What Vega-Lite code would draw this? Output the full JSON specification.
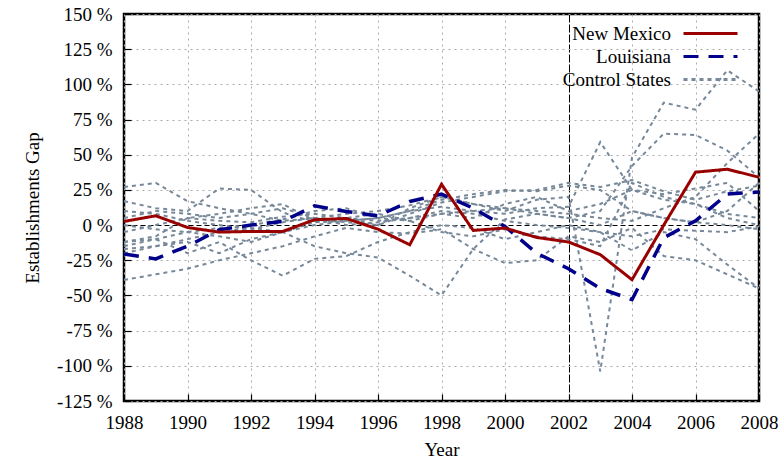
{
  "$schema": "https://vega.github.io/schema/vega-lite/v6.json",
  "width": 635,
  "height": 387,
  "autosize": {"type": "none"},
  "padding": {"left": 124, "top": 14, "right": 24, "bottom": 66},
  "background": "white",
  "config": {
    "font": "Liberation Serif",
    "view": {"stroke": "black", "strokeWidth": 2.5},
    "axis": {
      "labelFont": "Liberation Serif",
      "titleFont": "Liberation Serif",
      "labelFontSize": 19,
      "titleFontSize": 19,
      "titleFontWeight": "normal",
      "labelColor": "black",
      "titleColor": "black",
      "domain": false,
      "tickColor": "black",
      "tickWidth": 1.2,
      "gridWidth": 1
    },
    "legend": {
      "labelFont": "Liberation Serif",
      "labelFontSize": 19,
      "labelColor": "black"
    }
  },
  "data": {
    "values": [
      {"year": 1988, "New Mexico": 2.6, "Louisiana": -20.6, "C1": 27, "C2": 17, "C3": -12, "C4": -15, "C5": -5, "C6": 10, "C7": -17, "C8": -39, "C9": -12, "C10": 5, "C11": -20, "C12": 0},
      {"year": 1989, "New Mexico": 6.6, "Louisiana": -24, "C1": 30, "C2": 12, "C3": -8, "C4": -10, "C5": 0, "C6": 8, "C7": -15, "C8": -35, "C9": -10, "C10": 10, "C11": -15, "C12": -3},
      {"year": 1990, "New Mexico": -1.7, "Louisiana": -15, "C1": 17, "C2": 10, "C3": 5, "C4": -5, "C5": 5, "C6": 3, "C7": -10, "C8": -31, "C9": -20, "C10": 8, "C11": -12, "C12": -5},
      {"year": 1991, "New Mexico": -5, "Louisiana": -3.3, "C1": 12, "C2": 26, "C3": 8, "C4": -8, "C5": 3, "C6": 0, "C7": -5, "C8": -25, "C9": -12, "C10": 5, "C11": -20, "C12": -2},
      {"year": 1992, "New Mexico": -4.5, "Louisiana": 0, "C1": 8, "C2": 25, "C3": 12, "C4": -12, "C5": 2, "C6": -3, "C7": -2, "C8": -20, "C9": -25, "C10": 8, "C11": -10, "C12": 0},
      {"year": 1993, "New Mexico": -4.5, "Louisiana": 2.6, "C1": 3, "C2": 9, "C3": 15, "C4": -5, "C5": 6, "C6": 2, "C7": -5, "C8": -15, "C9": -36, "C10": 12, "C11": -5, "C12": 4},
      {"year": 1994, "New Mexico": 3.8, "Louisiana": 13.7, "C1": 5, "C2": 2, "C3": 3, "C4": 0, "C5": 8, "C6": 5, "C7": -15, "C8": -8, "C9": -24, "C10": 5, "C11": 2, "C12": 10},
      {"year": 1995, "New Mexico": 4.7, "Louisiana": 9.7, "C1": 2, "C2": 3, "C3": 5, "C4": 3, "C5": 5, "C6": 8, "C7": -20, "C8": -2, "C9": -22, "C10": 0, "C11": 5, "C12": 12},
      {"year": 1996, "New Mexico": -2.9, "Louisiana": 6.6, "C1": 0, "C2": 5, "C3": 0, "C4": 5, "C5": 3, "C6": 10, "C7": -23, "C8": -5, "C9": -12, "C10": 2, "C11": 8, "C12": 5},
      {"year": 1997, "New Mexico": -14, "Louisiana": 16.8, "C1": 8, "C2": 10, "C3": 12, "C4": 10, "C5": 5, "C6": 14, "C7": -36, "C8": -6, "C9": -5, "C10": 5, "C11": 3, "C12": 3},
      {"year": 1998, "New Mexico": 29, "Louisiana": 22, "C1": 16, "C2": 18, "C3": 20, "C4": 13, "C5": 8, "C6": 20, "C7": -50, "C8": -3, "C9": 0, "C10": 10, "C11": -5, "C12": 8},
      {"year": 1999, "New Mexico": -3.8, "Louisiana": 12, "C1": 20, "C2": 22, "C3": 15, "C4": 10, "C5": 10, "C6": 15, "C7": -17, "C8": -17, "C9": -2, "C10": 8, "C11": -8, "C12": 5},
      {"year": 2000, "New Mexico": -2.1, "Louisiana": -1, "C1": 24, "C2": 25, "C3": 10, "C4": 8, "C5": 12, "C6": 12, "C7": 4, "C8": -27, "C9": -10, "C10": 3, "C11": -3, "C12": 15},
      {"year": 2001, "New Mexico": -8.8, "Louisiana": -20, "C1": 25, "C2": 24, "C3": 18, "C4": 12, "C5": 8, "C6": 10, "C7": 8, "C8": -25, "C9": -5, "C10": 0, "C11": -8, "C12": 20},
      {"year": 2002, "New Mexico": -12, "Louisiana": -31, "C1": 30, "C2": 28, "C3": 20, "C4": 13, "C5": 5, "C6": 8, "C7": 5, "C8": -8, "C9": 0, "C10": -2, "C11": -10, "C12": 10},
      {"year": 2003, "New Mexico": -21, "Louisiana": -45, "C1": 27, "C2": 25, "C3": -104, "C4": 59, "C5": 10, "C6": 5, "C7": 0, "C8": -12, "C9": -5, "C10": -5, "C11": -15, "C12": 15},
      {"year": 2004, "New Mexico": -38.8, "Louisiana": -53, "C1": 32, "C2": 10, "C3": 48, "C4": 25, "C5": 42, "C6": 3, "C7": 10, "C8": -2, "C9": -18, "C10": -8, "C11": 30, "C12": 25},
      {"year": 2005, "New Mexico": 0, "Louisiana": -9, "C1": 24, "C2": 5, "C3": 87, "C4": 18, "C5": 65, "C6": 12, "C7": 5, "C8": -22, "C9": -5, "C10": -3, "C11": 20, "C12": 22},
      {"year": 2006, "New Mexico": 37.6, "Louisiana": 3, "C1": 18, "C2": 2, "C3": 82, "C4": 15, "C5": 64, "C6": 20, "C7": 2, "C8": -25, "C9": -10, "C10": -4, "C11": 15, "C12": 26},
      {"year": 2007, "New Mexico": 39.7, "Louisiana": 22, "C1": 24, "C2": 10, "C3": 110, "C4": 8, "C5": 53, "C6": 44, "C7": 0, "C8": -35, "C9": -28, "C10": -5, "C11": 5, "C12": 30},
      {"year": 2008, "New Mexico": 34, "Louisiana": 23.5, "C1": 28, "C2": 30, "C3": 95, "C4": 5, "C5": 34, "C6": 65, "C7": -3, "C8": -45, "C9": -45, "C10": -1, "C11": 0, "C12": 10}
    ]
  },
  "transform": [
    {"fold": ["C1", "C2", "C3", "C4", "C5", "C6", "C7", "C8", "C9", "C10", "C11", "C12", "Louisiana", "New Mexico"], "as": ["state", "v"]}
  ],
  "encoding": {
    "x": {
      "field": "year", "type": "quantitative",
      "scale": {"domain": [1988, 2008], "nice": false, "zero": false},
      "axis": {
        "title": "Year", "values": [1988, 1990, 1992, 1994, 1996, 1998, 2000, 2002, 2004, 2006, 2008],
        "format": "d", "tickSize": -7, "labelPadding": 19, "titlePadding": 8,
        "labelFlush": false, "labelOverlap": false,
        "labelFont": "Liberation Serif", "labelFontSize": 19,
        "gridColor": {"condition": {"test": "datum.value === 2002", "value": "black"}, "value": "#aaaaaa"},
        "gridDash": {"condition": {"test": "datum.value === 2002", "value": [8, 2]}, "value": [2, 4]}
      }
    },
    "y": {
      "field": "v", "type": "quantitative",
      "scale": {"domain": [-125, 150], "nice": false, "zero": false},
      "axis": {
        "title": "Establishments Gap",
        "values": [-125, -100, -75, -50, -25, 0, 25, 50, 75, 100, 125, 150],
        "labelExpr": "datum.value + ' %'", "tickSize": -7, "labelPadding": 19, "titlePadding": 14,
        "labelFlush": false, "labelOverlap": false,
        "labelFont": "Liberation Serif", "labelFontSize": 19,
        "gridColor": {"condition": {"test": "datum.value === 0", "value": "black"}, "value": "#aaaaaa"},
        "gridDash": {"condition": {"test": "datum.value === 0", "value": [5, 3]}, "value": [2, 4]}
      }
    }
  },
  "layer": [
    {
      "transform": [{"filter": {"field": "state", "oneOf": ["C1", "C2", "C3", "C4", "C5", "C6", "C7", "C8", "C9", "C10", "C11", "C12"]}}],
      "mark": {"type": "line", "strokeWidth": 2},
      "encoding": {
        "detail": {"field": "state"},
        "color": {
          "datum": "Control States", "type": "nominal",
          "scale": {"domain": ["New Mexico", "Louisiana", "Control States"], "range": ["#990000", "#00008b", "#778899"]},
          "legend": {
            "title": null, "orient": "none", "legendX": 576, "legendY": 9,
            "symbolType": "M-3,0L3,0", "symbolSize": 324, "symbolStrokeWidth": 3,
            "symbolFillColor": "transparent",
            "labelAlign": "right", "labelOffset": -50, "rowPadding": 2, "padding": 0
          }
        },
        "strokeDash": {
          "datum": "Control States", "type": "nominal",
          "scale": {"domain": ["New Mexico", "Louisiana", "Control States"], "range": [[1, 0], [15, 10], [4, 4]]},
          "legend": {
            "title": null, "orient": "none", "legendX": 576, "legendY": 9,
            "symbolType": "M-3,0L3,0", "symbolSize": 324, "symbolStrokeWidth": 3,
            "symbolFillColor": "transparent",
            "labelAlign": "right", "labelOffset": -50, "rowPadding": 2, "padding": 0
          }
        }
      }
    },
    {
      "transform": [{"filter": "datum.state === 'Louisiana'"}],
      "mark": {"type": "line", "strokeWidth": 3.5},
      "encoding": {
        "color": {"datum": "Louisiana", "type": "nominal"},
        "strokeDash": {"datum": "Louisiana", "type": "nominal"}
      }
    },
    {
      "transform": [{"filter": "datum.state === 'New Mexico'"}],
      "mark": {"type": "line", "strokeWidth": 3},
      "encoding": {
        "color": {"datum": "New Mexico", "type": "nominal"},
        "strokeDash": {"datum": "New Mexico", "type": "nominal"}
      }
    }
  ]
}
